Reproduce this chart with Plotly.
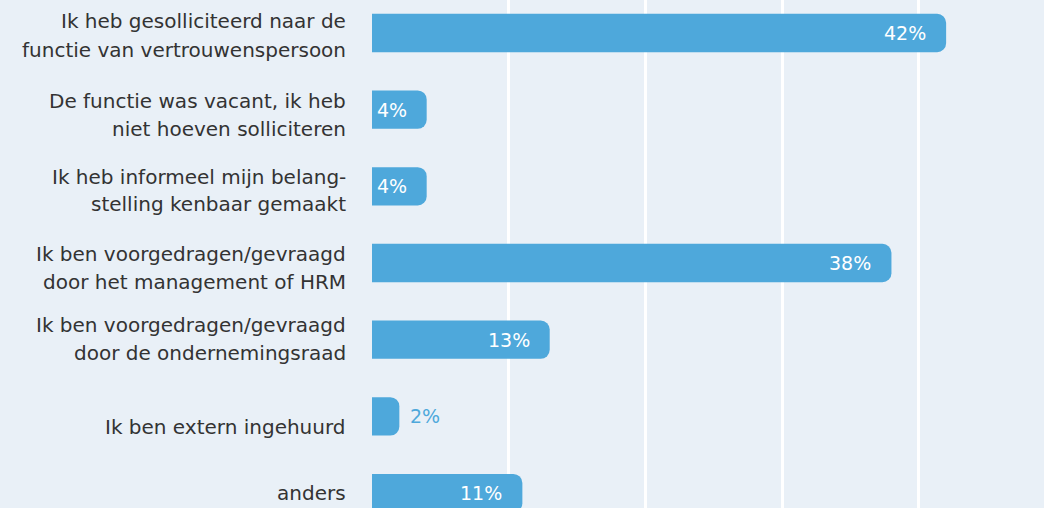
import plotly.graph_objects as go

categories = [
    "Ik heb gesolliciteerd naar de<br>functie van vertrouwenspersoon",
    "De functie was vacant, ik heb<br>niet hoeven solliciteren",
    "Ik heb informeel mijn belang-<br>stelling kenbaar gemaakt",
    "Ik ben voorgedragen/gevraagd<br>door het management of HRM",
    "Ik ben voorgedragen/gevraagd<br>door de ondernemingsraad",
    "Ik ben extern ingehuurd",
    "anders",
]
values = [42, 4, 4, 38, 13, 2, 11]

BLUE = "#4ea8db"
BG = "#e9f0f7"
FONT = "DejaVu Sans"

# label line centre offsets in px below the bar centre (layout only)
line_offsets = [[-12, 17], [-9, 19], [-9, 18], [-9, 19], [-15, 13], [11], [0]]

fig = go.Figure()
fig.add_trace(go.Bar(
    x=values, y=categories, orientation="h",
    marker=dict(color=BLUE, line=dict(width=0)),
    hoverinfo="skip",
))

ann = []
for cat, v, offs in zip(categories, values, line_offsets):
    for line, off in zip(cat.split("<br>"), offs):
        ann.append(dict(x=0, xref="paper", y=cat, yref="y", text=line,
                        xanchor="right", yanchor="middle", xshift=-24, yshift=-off,
                        showarrow=False, font=dict(family=FONT, size=20, color="#333333")))
    inside = v >= 3
    ann.append(dict(x=v, xref="x", y=cat, yref="y", text=f"{v}%",
                    xanchor="right" if inside else "left",
                    xshift=-18 if inside else 9, yanchor="middle",
                    showarrow=False,
                    font=dict(family=FONT, size=19, color="white" if inside else BLUE)))

fig.update_layout(
    width=1044, height=508,
    margin=dict(l=372, r=0, t=0, b=0),
    paper_bgcolor=BG, plot_bgcolor=BG,
    bargap=0.5, barcornerradius=9,
    showlegend=False,
    annotations=ann,
    xaxis=dict(range=[0, 49.16], tickvals=[0, 10, 20, 30, 40], showticklabels=False,
               showgrid=True, gridcolor="white", gridwidth=2.5, zeroline=False,
               showline=False, ticks=""),
    yaxis=dict(range=[6.195, -0.43], showticklabels=False, showgrid=False,
               zeroline=False, showline=False, ticks=""),
)

fig.write_html("out.html", config={"displayModeBar": False},
               post_script="document.body.style.margin='0';document.body.style.overflow='hidden';")
